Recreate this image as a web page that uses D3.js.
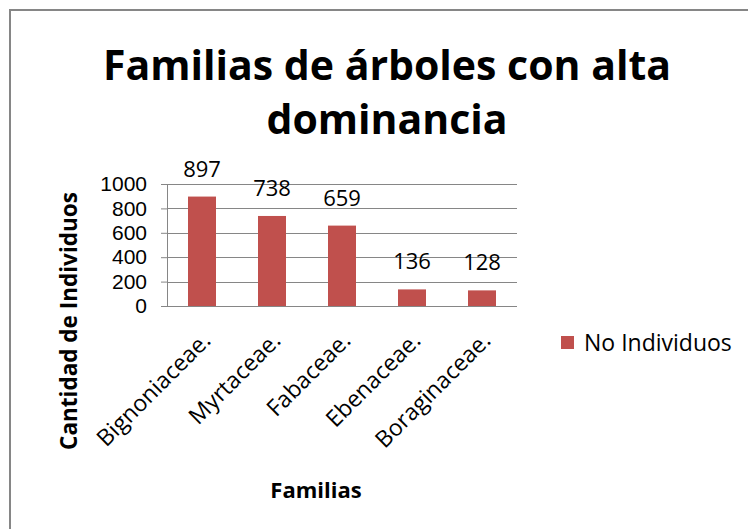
<!DOCTYPE html>
<html>
<head>
<meta charset="utf-8">
<script src="https://cdn.jsdelivr.net/npm/d3@7"></script>
<style>
  body { margin: 0; background: #fff; }
  text { font-family: "Open Sans", "Noto Sans", sans-serif; fill: #000; }
</style>
</head>
<body>
<script>
const familias = ["Bignoniaceae.", "Myrtaceae.", "Fabaceae.", "Ebenaceae.", "Boraginaceae."];
const individuos = [897, 738, 659, 136, 128];
const yTicks = [0, 200, 400, 600, 800, 1000];
const serieNombre = "No Individuos";
const titulo = ["Familias de árboles con alta", "dominancia"];

const width = 748, height = 529;
const margin = { left: 167, right: 231, top: 184, bottom: 223 };

const svg = d3.select("body").append("svg")
  .attr("width", width)
  .attr("height", height);

// chart frame, cut off at right and bottom like the source
svg.append("rect")
  .attr("x", 10).attr("y", 10)
  .attr("width", 800).attr("height", 600)
  .attr("fill", "#fff")
  .attr("stroke", "#868686")
  .attr("stroke-width", 2);

const x = d3.scaleBand()
  .domain(familias)
  .range([margin.left, width - margin.right])
  .paddingInner(0.6)
  .paddingOuter(0.3);

const y = d3.scaleLinear()
  .domain([0, 1000])
  .range([height - margin.bottom, margin.top]);

// y axis (tighter line box font so stacked ticks don't collide)
const yAxis = svg.append("g")
  .attr("transform", `translate(${margin.left},0)`)
  .call(d3.axisLeft(y).tickValues(yTicks).tickFormat(d3.format("d")).tickSize(6).tickPadding(14));
yAxis.select(".domain").attr("stroke", "#868686");
yAxis.selectAll(".tick line").attr("stroke", "#868686");
yAxis.selectAll(".tick text")
  .attr("font-size", 21)
  .attr("fill", "#000")
  .style("font-family", "'Liberation Sans', Arial, sans-serif");

// gridlines
svg.append("g")
  .selectAll("line")
  .data(yTicks)
  .join("line")
  .attr("x1", margin.left)
  .attr("x2", width - margin.right)
  .attr("y1", d => Math.round(y(d)) + 0.5)
  .attr("y2", d => Math.round(y(d)) + 0.5)
  .attr("stroke", "#868686")
  .attr("stroke-width", 1);

// bars
svg.append("g")
  .selectAll("rect")
  .data(individuos)
  .join("rect")
  .attr("x", (d, i) => x(familias[i]))
  .attr("y", d => y(d))
  .attr("width", x.bandwidth())
  .attr("height", d => y(0) - y(d))
  .attr("fill", "#C0504D");

// value labels
svg.append("g")
  .selectAll("text")
  .data(individuos)
  .join("text")
  .attr("x", (d, i) => x(familias[i]) + x.bandwidth() / 2)
  .attr("y", d => y(d) - 20)
  .attr("text-anchor", "middle")
  .attr("font-size", 22)
  .text(d => d);

// category labels, rotated
svg.append("g")
  .selectAll("text")
  .data(familias)
  .join("text")
  .attr("transform", d => `translate(${x(d) + x.bandwidth() / 2 + 10},${y(0) + 36}) rotate(-45)`)
  .attr("text-anchor", "end")
  .attr("font-size", 23)
  .text(d => d);

// title
svg.append("g")
  .selectAll("text")
  .data(titulo)
  .join("text")
  .attr("x", 387)
  .attr("y", (d, i) => 80 + i * 54)
  .attr("text-anchor", "middle")
  .attr("font-size", 41)
  .attr("font-weight", "bold")
  .text(d => d);

// axis titles
svg.append("text")
  .attr("transform", `translate(77,${321}) rotate(-90)`)
  .attr("text-anchor", "middle")
  .attr("font-size", 22.5)
  .attr("font-weight", "bold")
  .text("Cantidad de Individuos");

svg.append("text")
  .attr("x", 316)
  .attr("y", 498)
  .attr("text-anchor", "middle")
  .attr("font-size", 22)
  .attr("font-weight", "bold")
  .text("Familias");

// legend
const legend = svg.append("g").attr("transform", "translate(561,336)");
legend.append("rect")
  .attr("width", 13).attr("height", 13)
  .attr("fill", "#C0504D");
legend.append("text")
  .attr("x", 23).attr("y", 15)
  .attr("font-size", 23)
  .text(serieNombre);
</script>
</body>
</html>
